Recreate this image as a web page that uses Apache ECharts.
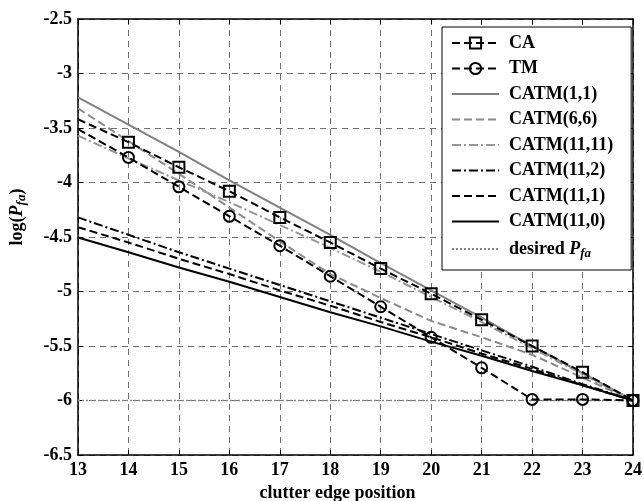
<!DOCTYPE html>
<html>
<head>
<meta charset="utf-8">
<script src="https://cdn.jsdelivr.net/npm/echarts@6/dist/echarts.min.js"></script>
<style>html,body{margin:0;padding:0;background:#fff;}#c{width:644px;height:501px;}</style>
</head>
<body>
<div id="c"></div>
<script>
const xs = [13, 14, 15, 16, 17, 18, 19, 20, 21, 22, 23, 24];
const caY = [-3.42, -3.63, -3.86, -4.08, -4.32, -4.55, -4.79, -5.02, -5.26, -5.50, -5.74, -6.00];
const tmY = [-3.51, -3.77, -4.04, -4.31, -4.58, -4.86, -5.14, -5.42, -5.70, -5.99, -5.99, -6.00];
const catm1_1Y = [-3.22, -3.47, -3.72, -3.98, -4.23, -4.48, -4.74, -4.99, -5.24, -5.50, -5.75, -6.00];
const catm6_6Y = [-3.32, -3.62, -3.92, -4.23, -4.54, -4.84, -5.06, -5.27, -5.42, -5.58, -5.79, -6.00];
const catm11_11Y = [-3.57, -3.78, -3.98, -4.18, -4.39, -4.60, -4.82, -5.05, -5.28, -5.52, -5.76, -6.00];
const catm11_2Y = [-4.32, -4.48, -4.64, -4.79, -4.94, -5.09, -5.24, -5.39, -5.54, -5.69, -5.85, -6.00];
const catm11_1Y = [-4.41, -4.55, -4.70, -4.84, -4.99, -5.13, -5.28, -5.42, -5.57, -5.71, -5.86, -6.00];
const catm11_0Y = [-4.505, -4.64, -4.78, -4.91, -5.05, -5.19, -5.32, -5.46, -5.59, -5.73, -5.86, -6.00];
const desiredY = [-6, -6, -6, -6, -6, -6, -6, -6, -6, -6, -6, -6];
const names = ['CA', 'TM', 'CATM(1,1)', 'CATM(6,6)', 'CATM(11,11)', 'CATM(11,2)', 'CATM(11,1)', 'CATM(11,0)', 'desired Pfa'];

const FONT = 'Liberation Serif';
const FS = 18;
function pts(arr, markFirst) {
  return xs.map((x, i) => {
    if (!markFirst && i === 0) return { value: [x, arr[i]], symbol: 'none' };
    return [x, arr[i]];
  });
}
function lineSeries(name, arr, color, type, width, z) {
  return {
    name: name, type: 'line', data: pts(arr, true), showSymbol: false, symbol: 'none',
    lineStyle: { color: color, type: type, width: width },
    itemStyle: { color: color }, z: z, animation: false, silent: true
  };
}
const DASH = [8, 4];
const DASHDOT = [9, 3, 2, 3];

const series = [
  {
    name: 'CA', type: 'line', data: pts(caY, false), symbol: 'rect', symbolSize: 11,
    lineStyle: { color: '#000', type: DASH, width: 2 },
    itemStyle: { color: 'rgba(0,0,0,0)', borderColor: '#000', borderWidth: 2 }, z: 10, animation: false
  },
  {
    name: 'TM', type: 'line', data: pts(tmY, false), symbol: 'circle', symbolSize: 11,
    lineStyle: { color: '#000', type: DASH, width: 2 },
    itemStyle: { color: 'rgba(0,0,0,0)', borderColor: '#000', borderWidth: 2 }, z: 10, animation: false
  },
  lineSeries('CATM(1,1)', catm1_1Y, '#808080', 'solid', 2, 5),
  lineSeries('CATM(6,6)', catm6_6Y, '#8a8a8a', DASH, 2, 5),
  lineSeries('CATM(11,11)', catm11_11Y, '#969696', DASHDOT, 2, 5),
  lineSeries('CATM(11,2)', catm11_2Y, '#000', DASHDOT, 2, 6),
  lineSeries('CATM(11,1)', catm11_1Y, '#000', DASH, 2, 6),
  lineSeries('CATM(11,0)', catm11_0Y, '#000', 'solid', 2, 6),
  lineSeries('desired Pfa', desiredY, '#888', [2, 2], 1.5, 4)
];

const hidden = { color: 'rgba(0,0,0,0)', borderWidth: 0, borderColor: 'rgba(0,0,0,0)' };
const legendData = names.map((n, i) => i < 2 ? { name: n } : { name: n, itemStyle: hidden });

const labelStyle = { fontFamily: FONT, fontWeight: 'bold', fontSize: FS, color: '#000' };
const tickStyle = { show: true, inside: true, length: 5, lineStyle: { color: '#000', width: 1 } };
const axLine = { show: true, onZero: false, lineStyle: { color: '#000', width: 1.5 } };
const split = { show: true, lineStyle: { color: '#707070', type: [6, 5], width: 1 } };

const chart = echarts.init(document.getElementById('c'), null, { renderer: 'canvas' });
chart.setOption({
  backgroundColor: '#fff',
  animation: false,
  grid: { left: 78, right: 11, top: 19, bottom: 46, containLabel: false, outerBoundsMode: 'none' },
  legend: {
    data: legendData, orient: 'vertical', left: 442, top: 27,
    backgroundColor: '#fff', borderColor: '#000', borderWidth: 1,
    padding: [7, 18, 10, 9], itemWidth: 47, itemHeight: 14, itemGap: 7.5,
    textStyle: {
      fontFamily: FONT, fontWeight: 'bold', fontSize: FS, lineHeight: 18, color: '#000', padding: [0, 0, 0, 5],
      rich: {
        i: { fontFamily: FONT, fontWeight: 'bold', fontStyle: 'italic', fontSize: FS, lineHeight: 18, color: '#000' },
        s: { fontFamily: FONT, fontWeight: 'bold', fontStyle: 'italic', fontSize: 13, lineHeight: 18, color: '#000', padding: [9, 0, 0, 0] }
      }
    },
    formatter: function (n) { return n === 'desired Pfa' ? 'desired {i|P}{s|fa}' : n; }
  },
  xAxis: [
    {
      type: 'value', min: 13, max: 24, interval: 1, position: 'bottom',
      axisLine: axLine, axisTick: tickStyle, splitLine: split,
      axisLabel: Object.assign({ margin: 6 }, labelStyle),
      name: 'clutter edge position', nameLocation: 'middle', nameGap: 26,
      nameTextStyle: { fontFamily: FONT, fontWeight: 'bold', fontSize: FS, color: '#000', padding: [0, 36, 0, 0] }
    },
    {
      type: 'value', min: 13, max: 24, interval: 1, position: 'top',
      axisLine: axLine, axisTick: tickStyle, splitLine: { show: false }, axisLabel: { show: false }
    }
  ],
  yAxis: [
    {
      type: 'value', min: -6.5, max: -2.5, interval: 0.5, position: 'left',
      axisLine: axLine, axisTick: tickStyle, splitLine: split,
      axisLabel: Object.assign({ margin: 6 }, labelStyle),
      name: 'log({i|P}{s|fa})', nameLocation: 'middle', nameGap: 50, nameRotate: 90,
      nameTextStyle: {
        fontFamily: FONT, fontWeight: 'bold', fontSize: FS, color: '#000', padding: [0, 0, 0, 40],
        rich: {
          i: { fontFamily: FONT, fontWeight: 'bold', fontStyle: 'italic', fontSize: FS, color: '#000' },
          s: { fontFamily: FONT, fontWeight: 'bold', fontStyle: 'italic', fontSize: 13, color: '#000', padding: [9, 0, 0, 0] }
        }
      }
    },
    {
      type: 'value', min: -6.5, max: -2.5, interval: 0.5, position: 'right',
      axisLine: axLine, axisTick: tickStyle, splitLine: { show: false }, axisLabel: { show: false }
    }
  ],
  series: series
});
</script>
</body>
</html>
